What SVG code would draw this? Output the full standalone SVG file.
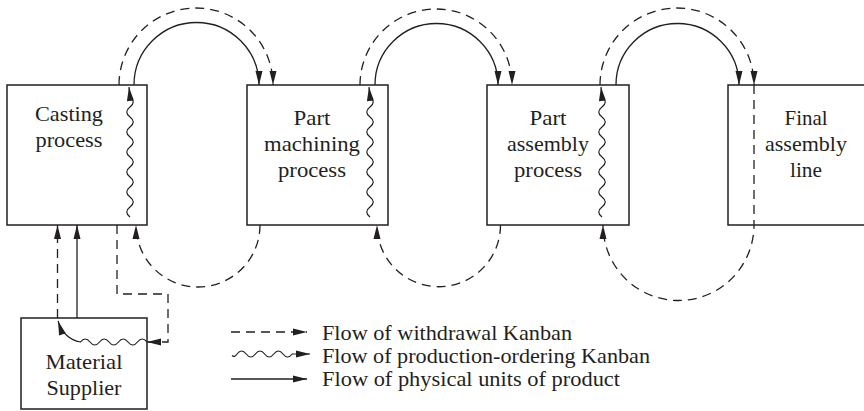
<svg xmlns="http://www.w3.org/2000/svg" width="864" height="411" viewBox="0 0 864 411">
  <defs>
    <marker id="arrow" markerUnits="userSpaceOnUse" markerWidth="15" markerHeight="8" refX="14" refY="3.5" orient="auto" overflow="visible">
      <path d="M0,0 L14,3.5 L0,7 Z" fill="#231f20" stroke="none"/>
    </marker>
    <style>
      .box { fill: #ffffff; stroke: #231f20; stroke-width: 1.5; }
      .lbl { font-family: "Liberation Serif", "Times New Roman", serif; font-size: 22px; fill: #231f20; text-anchor: middle; }
      .leg { font-family: "Liberation Serif", "Times New Roman", serif; font-size: 22px; fill: #231f20; }
      .solid { fill: none; stroke: #231f20; stroke-width: 1.3; marker-end: url(#arrow); }
      .dash { fill: none; stroke: #231f20; stroke-width: 1.3; stroke-dasharray: 9 6; marker-end: url(#arrow); }
      .wave { fill: none; stroke: #231f20; stroke-width: 1.2; marker-end: url(#arrow); }
    </style>
  </defs>
  <rect width="864" height="411" fill="#ffffff"/>

  <!-- process boxes -->
  <g id="casting">
    <rect class="box" x="7" y="85" width="140" height="140"/>
    <text class="lbl" x="69" y="120.5" textLength="68" lengthAdjust="spacingAndGlyphs">Casting</text>
    <text class="lbl" x="69" y="146.5" textLength="67" lengthAdjust="spacingAndGlyphs">process</text>
  </g>
  <g id="machining">
    <rect class="box" x="247" y="85" width="141" height="140"/>
    <text class="lbl" x="312" y="124.5" textLength="37" lengthAdjust="spacingAndGlyphs">Part</text>
    <text class="lbl" x="312" y="151" textLength="96" lengthAdjust="spacingAndGlyphs">machining</text>
    <text class="lbl" x="312" y="176.5" textLength="68" lengthAdjust="spacingAndGlyphs">process</text>
  </g>
  <g id="part-assembly">
    <rect class="box" x="487" y="85" width="142" height="140"/>
    <text class="lbl" x="548" y="124.5" textLength="37" lengthAdjust="spacingAndGlyphs">Part</text>
    <text class="lbl" x="548" y="151" textLength="82" lengthAdjust="spacingAndGlyphs">assembly</text>
    <text class="lbl" x="548" y="176.5" textLength="68" lengthAdjust="spacingAndGlyphs">process</text>
  </g>
  <g id="final-assembly">
    <rect class="box" x="728" y="85" width="150" height="140"/>
    <text class="lbl" x="806" y="124.5" textLength="43" lengthAdjust="spacingAndGlyphs">Final</text>
    <text class="lbl" x="806" y="151" textLength="82" lengthAdjust="spacingAndGlyphs">assembly</text>
    <text class="lbl" x="806" y="176.5" textLength="32" lengthAdjust="spacingAndGlyphs">line</text>
  </g>
  <g id="supplier">
    <rect class="box" x="21" y="318" width="126" height="91"/>
    <text class="lbl" x="84" y="368.5" textLength="77" lengthAdjust="spacingAndGlyphs">Material</text>
    <text class="lbl" x="84" y="395" textLength="75" lengthAdjust="spacingAndGlyphs">Supplier</text>
  </g>

  <!-- connectors -->
  <g id="connectors">
    <!-- withdrawal kanban loops over the top -->
    <path class="dash" d="M119,85 A77,77 0 0 1 273,85"/>
    <path class="dash" d="M360,85 A76,76 0 0 1 512,85"/>
    <path class="dash" d="M600,85 A77,77 0 0 1 754,85"/>
    <!-- physical units -->
    <path class="solid" d="M134,85 A62.5,62.5 0 0 1 259,85"/>
    <path class="solid" d="M375,85 A61.5,61.5 0 0 1 498,85"/>
    <path class="solid" d="M616,85 A61.5,61.5 0 0 1 739,85"/>
    <!-- withdrawal kanban returning underneath -->
    <path class="dash" d="M260,225 A62,62 0 0 1 136,225"/>
    <path class="dash" d="M500.5,225 A61.75,61.75 0 0 1 377,225"/>
    <path class="dash" d="M754,85 V225 A75.5,75.5 0 0 1 603,225"/>
    <!-- production-ordering kanban inside each process -->
    <path class="wave" d="M130,217 q -6.5,-5 0,-10 t 0,-10 t 0,-10 t 0,-10 t 0,-10 t 0,-10 t 0,-10 t 0,-10 t 0,-10 t 0,-10 t 0,-10 t 0,-10 l -1,-10"/>
    <path class="wave" d="M370,217 q -6.5,-5 0,-10 t 0,-10 t 0,-10 t 0,-10 t 0,-10 t 0,-10 t 0,-10 t 0,-10 t 0,-10 t 0,-10 t 0,-10 t 0,-10 l -1,-10"/>
    <path class="wave" d="M602,217 q -6.5,-5 0,-10 t 0,-10 t 0,-10 t 0,-10 t 0,-10 t 0,-10 t 0,-10 t 0,-10 t 0,-10 t 0,-10 t 0,-10 t 0,-10 l -1,-10"/>
    <!-- supplier links -->
    <path class="solid" d="M77,318 V225"/>
    <path class="dash" d="M57.5,318 V225"/>
    <path class="dash" d="M117,225 V294 H168 V342 H147"/>
    <path class="wave" d="M147,342 q -4.75,-6 -9.5,0 t -9.5,0 t -9.5,0 t -9.5,0 t -9.5,0 t -9.5,0 t -9.5,0 Q 64,339 58,321"/>
  </g>

  <!-- key -->
  <g id="legend">
    <path class="dash" d="M231,332 H307"/>
    <path class="wave" d="M232,355.5 q 2.5,2.5 5,-1.5 q 4.6,-6 9.2,0 t 9.2,0 t 9.2,0 t 9.2,0 t 9.2,0 t 9.2,0 L310,354"/>
    <path class="solid" d="M231,379 H307"/>
    <text class="leg" x="322" y="340" textLength="250" lengthAdjust="spacingAndGlyphs">Flow of withdrawal Kanban</text>
    <text class="leg" x="322" y="363" textLength="328" lengthAdjust="spacingAndGlyphs">Flow of production-ordering Kanban</text>
    <text class="leg" x="322" y="386" textLength="298" lengthAdjust="spacingAndGlyphs">Flow of physical units of product</text>
  </g>
</svg>
